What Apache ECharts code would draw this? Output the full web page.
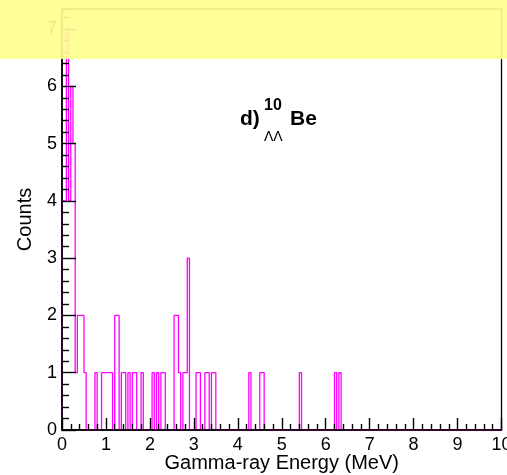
<!DOCTYPE html>
<html>
<head>
<meta charset="utf-8">
<script src="https://cdn.jsdelivr.net/npm/echarts@6/dist/echarts.min.js"></script>
<style>
html,body{margin:0;padding:0;background:#ffffff;}
#chart{width:507px;height:475px;}
</style>
</head>
<body>
<div id="chart"></div>
<script>
// Histogram binning
const binWidth = 0.05;
const nBins = 200;
// Low edges (MeV) of non-empty bins and their counts
const binLowEdges = [0.00,0.05,0.10,0.15,0.20,0.25,0.30,0.35,0.40,0.45,0.50,
  0.75,0.90,0.95,1.00,1.05,1.10,1.20,1.25,1.35,1.40,1.50,1.60,1.65,1.80,
  2.05,2.15,2.25,2.30,2.55,2.60,2.65,2.75,2.80,2.85,
  3.05,3.10,3.25,3.30,3.40,3.45,4.25,4.50,4.55,5.40,6.20,6.30];
const binCounts = [4,4,7,4,6,5,1,2,2,2,1,
  1,1,1,1,1,1,2,2,1,1,1,1,1,1,
  1,1,1,1,2,2,1,1,1,3,
  1,1,1,1,1,1,1,1,1,1,1,1];
// Axis ticks
const xTickValues = [0,1,2,3,4,5,6,7,8,9,10];
const yTickValues = [0,1,2,3,4,5,6,7];
const yMax = 7.35;

const full = new Array(nBins).fill(0);
binLowEdges.forEach((e, i) => { full[Math.round(e / binWidth)] = binCounts[i]; });
const points = [[0, 0]];
for (let i = 0; i < nBins; i++) points.push([i * binWidth, full[i]]);
points.push([nBins * binWidth, 0]);

const FONT = '"Liberation Sans", Arial, Helvetica, sans-serif';
const chart = echarts.init(document.getElementById('chart'), null, {renderer: 'canvas'});
chart.setOption({
  animation: false,
  backgroundColor: '#ffffff',
  grid: {left: 62, right: 5.5, top: 9, bottom: 45, show: true, borderColor: '#000', borderWidth: 1.3,
    backgroundColor: 'transparent', containLabel: false, outerBoundsMode: 'none'},
  xAxis: {
    type: 'value', min: xTickValues[0], max: xTickValues[xTickValues.length - 1], interval: 1, z: 5,
    name: 'Gamma-ray Energy (MeV)', nameLocation: 'middle', nameGap: 23, nameMoveOverlap: false,
    nameTextStyle: {fontFamily: FONT, fontSize: 20, color: '#000'},
    axisLine: {show: true, onZero: false, lineStyle: {color: '#000', width: 1.6}},
    axisTick: {show: true, inside: true, length: 12, lineStyle: {color: '#000', width: 1.4}},
    minorTick: {show: true, splitNumber: 5, length: 6, lineStyle: {color: '#000', width: 1.4}},
    axisLabel: {fontFamily: FONT, fontSize: 18, color: '#000', margin: 6, hideOverlap: false,
      showMinLabel: true, showMaxLabel: true,
      formatter: v => xTickValues.includes(v) ? String(v) : ''},
    splitLine: {show: false}
  },
  yAxis: {
    type: 'value', min: 0, max: yMax, interval: 1, z: 5,
    name: 'Counts', nameLocation: 'middle', nameGap: 27, nameRotate: 90, nameMoveOverlap: false,
    nameTextStyle: {fontFamily: FONT, fontSize: 20, color: '#000'},
    axisLine: {show: true, onZero: false, lineStyle: {color: '#000', width: 1.6}},
    axisTick: {show: true, inside: true, length: 14, lineStyle: {color: '#000', width: 1.4}},
    minorTick: {show: true, splitNumber: 5, length: 7, lineStyle: {color: '#000', width: 1.4}},
    axisLabel: {fontFamily: FONT, fontSize: 18, color: '#000', margin: 5,
      formatter: v => yTickValues.includes(v) ? String(v) : ''},
    splitLine: {show: false}
  },
  series: [{
    type: 'line', step: 'end', data: points, symbol: 'none', z: 2,
    lineStyle: {color: '#ff00ff', width: 1.3}, clip: true
  }],
  graphic: [
    {type: 'text', x: 240, y: 119, z: 10, style: {text: 'd)', font: 'bold 21px ' + FONT, fill: '#000', verticalAlign: 'middle'}},
    {type: 'text', x: 264, y: 106, z: 10, style: {text: '10', font: 'bold 16px ' + FONT, fill: '#000', verticalAlign: 'middle'}},
    {type: 'text', x: 264, y: 137, z: 10, style: {text: 'ΛΛ', font: '14px ' + FONT, fill: '#000', verticalAlign: 'middle'}},
    {type: 'text', x: 290, y: 119, z: 10, style: {text: 'Be', font: 'bold 21px ' + FONT, fill: '#000', verticalAlign: 'middle'}},
    {type: 'rect', z: 100, shape: {x: 0, y: 0, width: 507, height: 59}, style: {fill: 'rgba(255,255,145,0.92)'}}
  ]
});
</script>
</body>
</html>
